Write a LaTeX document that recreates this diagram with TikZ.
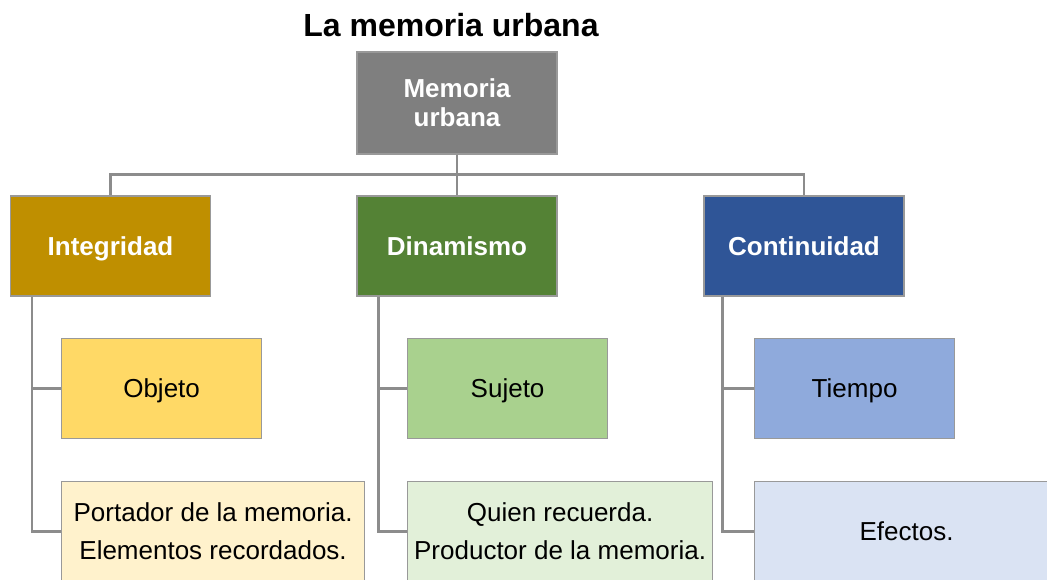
\documentclass[tikz,border=0pt]{standalone}
\usepackage{fontspec}
\setmainfont{Liberation Sans}
\definecolor{rootc}{HTML}{7F7F7F}
\definecolor{intc}{HTML}{BF8F00}
\definecolor{dinc}{HTML}{548235}
\definecolor{conc}{HTML}{2F5597}
\definecolor{objc}{HTML}{FFD966}
\definecolor{sujc}{HTML}{A9D18E}
\definecolor{tiec}{HTML}{8FAADC}
\definecolor{porc}{HTML}{FFF2CC}
\definecolor{quic}{HTML}{E2F0D9}
\definecolor{efec}{HTML}{DAE3F3}
\definecolor{edgec}{HTML}{999999}
\definecolor{linec}{HTML}{8C8C8C}
\tikzset{
  box/.style={draw=edgec, line width=1.2pt, minimum height=100pt, inner sep=0pt, align=center},
  oneline/.style={text height=21pt, text depth=2.5pt},
  topbox/.style={box, text=white, font=\fontsize{26}{29}\selectfont\bfseries, minimum width=200pt},
  smallbox/.style={box, oneline, font=\fontsize{26}{38}\selectfont, minimum width=200pt},
  bigbox/.style={box, font=\fontsize{26}{38}\selectfont, minimum width=303pt},
  conn/.style={draw=linec, line width=2.2pt}
}
\begin{document}
\begin{tikzpicture}[x=1pt,y=-1pt]
\useasboundingbox (0,0) rectangle (1047,580);
\clip (0,0) rectangle (1047,580);
\node[font=\fontsize{32}{36}\selectfont\bfseries, anchor=base] (title) at (451,37) {La memoria urbana};
\node[topbox, fill=rootc, minimum height=102pt] (root) at (457,103) {Memoria\\urbana};
\node[topbox, oneline, fill=intc] (int) at (110.5,246) {Integridad};
\node[topbox, oneline, fill=dinc] (din) at (457,246) {Dinamismo};
\node[topbox, oneline, fill=conc] (con) at (804,246) {Continuidad};
\node[smallbox, fill=objc, anchor=west] (obj) at (61,388.5) {Objeto};
\node[smallbox, fill=sujc, anchor=west] (suj) at (407,388.5) {Sujeto};
\node[smallbox, fill=tiec, anchor=west] (tie) at (754,388.5) {Tiempo};
\node[bigbox, fill=porc, anchor=west] (por) at (61,531.5) {Portador de la memoria.\\Elementos recordados.};
\node[bigbox, fill=quic, anchor=west, minimum width=305pt] (qui) at (407,531.5) {Quien recuerda.\\Productor de la memoria.};
\node[bigbox, fill=efec, anchor=west, minimum width=304pt] (efe) at (754,531.5) {Efectos.};
\draw[conn] (root.south) -- ++(0,20) -| (int.north);
\draw[conn] (root.south) -- ++(0,20) -| (con.north);
\draw[conn] (root.south) -- (din.north);
\draw[conn] ([xshift=22pt]int.south west) |- (obj.west);
\draw[conn] ([xshift=22pt]int.south west) |- (por.west);
\draw[conn] ([xshift=22pt]din.south west) |- (suj.west);
\draw[conn] ([xshift=22pt]din.south west) |- (qui.west);
\draw[conn] ([xshift=19pt]con.south west) |- (tie.west);
\draw[conn] ([xshift=19pt]con.south west) |- (efe.west);
\end{tikzpicture}
\end{document}
